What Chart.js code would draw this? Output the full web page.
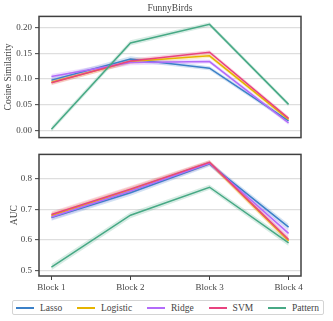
<!DOCTYPE html>
<html>
<head>
<meta charset="utf-8">
<script src="https://cdn.jsdelivr.net/npm/chart.js@4/dist/chart.umd.min.js"></script>
<style>
  html, body { margin:0; padding:0; background:#fff; }
  body { width:333px; height:321px; position:relative; overflow:hidden; font-family:"Liberation Serif", serif; }
  #c1 { position:absolute; left:0; top:0; }
  #c2 { position:absolute; left:0; top:146px; }
  #legend { position:absolute; left:12px; top:300px; width:312px; height:15px; border:1px solid #d4d4d4; border-radius:2px;
            display:flex; align-items:center; justify-content:space-between; padding:0 4px 0 3px; box-sizing:border-box;
            font-size:9.5px; color:#444; }
  .item { display:flex; align-items:center; }
  .swatch { width:18px; height:2px; margin-right:6px; }
</style>
</head>
<body>
<canvas id="c1" width="333" height="146"></canvas>
<canvas id="c2" width="333" height="150"></canvas>
<div id="legend"></div>
<script>
// ---- data ----
const blocks = ['Block 1', 'Block 2', 'Block 3', 'Block 4'];
const methods = ['Lasso', 'Logistic', 'Ridge', 'SVM', 'Pattern'];

const cosLasso    = [0.098, 0.139, 0.121, 0.019];
const cosLogistic = [0.094, 0.134, 0.145, 0.022];
const cosRidge    = [0.105, 0.132, 0.134, 0.015];
const cosSVM      = [0.093, 0.135, 0.152, 0.024];
const cosPattern  = [0.003, 0.170, 0.206, 0.051];
const cosSpread   = [0.005, 0.005, 0.004, 0.004];

const aucLasso    = [0.673, 0.754, 0.848, 0.642];
const aucLogistic = [0.680, 0.764, 0.852, 0.598];
const aucRidge    = [0.675, 0.760, 0.850, 0.622];
const aucSVM      = [0.683, 0.766, 0.853, 0.602];
const aucPattern  = [0.512, 0.681, 0.772, 0.591];
const aucSpread   = [0.010, 0.010, 0.008, 0.010];

const cosSeries = [cosLasso, cosLogistic, cosRidge, cosSVM, cosPattern];
const aucSeries = [aucLasso, aucLogistic, aucRidge, aucSVM, aucPattern];

// ---- style ----
const colors = ['#3b80c8', '#e6b400', '#b36bfa', '#e8437f', '#47a985'];
const bandColors = ['rgba(59,128,200,0.22)', 'rgba(230,180,0,0.22)', 'rgba(179,107,250,0.22)', 'rgba(232,67,127,0.22)', 'rgba(71,169,133,0.22)'];
const FONT = "'Liberation Serif', serif";
const TXT = '#444';

function pts(arr, off) { return arr.map((v, i) => ({x: i, y: v + (off ? off[i] : 0)})); }
function neg(a) { return a.map(v => -v); }

function buildDatasets(series, spread) {
  const ds = [];
  const n = series.length;
  series.forEach((s, k) => {
    ds.push({ data: pts(s, neg(spread)), borderWidth: 0, borderColor: 'transparent', pointRadius: 0, fill: false, order: 100 + n - k });
    ds.push({ data: pts(s, spread), borderWidth: 0, borderColor: 'transparent', pointRadius: 0, fill: '-1', backgroundColor: bandColors[k], order: 100 + n - k });
    ds.push({ label: methods[k], data: pts(s), borderColor: colors[k], borderWidth: 1.5, pointRadius: 0, fill: false, tension: 0, order: n - k });
  });
  return ds;
}

const boxPlugin = {
  id: 'box',
  afterDraw(chart) {
    const a = chart.chartArea, ctx = chart.ctx;
    ctx.save();
    ctx.strokeStyle = '#404040';
    ctx.lineWidth = 1.5;
    ctx.strokeRect(a.left, a.top, a.right - a.left, a.bottom - a.top);
    ctx.restore();
  }
};

function makeChart(id, series, spread, opts) {
  return new Chart(document.getElementById(id), {
    type: 'line',
    data: { datasets: buildDatasets(series, spread) },
    plugins: [boxPlugin],
    options: {
      responsive: false,
      animation: false,
      layout: { padding: opts.padding },
      plugins: {
        legend: { display: false },
        tooltip: { enabled: false },
        title: opts.title ? { display: true, text: opts.title, fullSize: false, color: TXT,
                 font: { family: FONT, size: 9.5, weight: 'normal' }, padding: { top: 3, bottom: 2 } } : { display: false }
      },
      scales: {
        x: {
          type: 'linear', min: -0.157, max: 3.157,
          display: opts.showX,
          afterBuildTicks: sc => { sc.ticks = blocks.map((_, i) => ({ value: i })); },
          afterFit: sc => { sc.height = opts.showX ? 20 : 0; },
          ticks: { callback: (v) => blocks[v], color: TXT, font: { family: FONT, size: 9 }, padding: 2, maxRotation: 0, autoSkip: false },
          grid: { drawOnChartArea: false, drawTicks: true, tickLength: 4, tickColor: '#404040', tickWidth: 1 },
          border: { display: false }
        },
        y: {
          min: opts.ymin, max: opts.ymax,
          afterBuildTicks: sc => { sc.ticks = opts.yticks.map(v => ({ value: v })); },
          afterFit: sc => { sc.width = 39; },
          ticks: { callback: opts.fmt, color: TXT, font: { family: FONT, size: 9 }, padding: 3 },
          grid: { color: '#dedede', lineWidth: 1.3, drawTicks: true, tickLength: 4, tickColor: '#404040', tickWidth: 1 },
          border: { display: false },
          title: { display: true, text: opts.ylabel, color: TXT, font: { family: FONT, size: 9.5 }, padding: opts.titlePad }
        }
      }
    }
  });
}

const cosTicks = [0.00, 0.05, 0.10, 0.15, 0.20];
const aucTicks = [0.5, 0.6, 0.7, 0.8];

makeChart('c1', cosSeries, cosSpread, {
  title: 'FunnyBirds', showX: false, ymin: -0.0133, ymax: 0.2214, yticks: cosTicks,
  fmt: v => v.toFixed(2), ylabel: 'Cosine Similarity', titlePad: { top: 3, bottom: 0 },
  padding: { left: 0, right: 32, top: 0, bottom: 6 }
});
makeChart('c2', aucSeries, aucSpread, {
  title: null, showX: true, ymin: 0.483, ymax: 0.879, yticks: aucTicks,
  fmt: v => v.toFixed(1), ylabel: 'AUC', titlePad: { top: 9, bottom: 0 },
  padding: { left: 0, right: 32, top: 7, bottom: 0 }
});

// legend (HTML, built from arrays)
const lg = document.getElementById('legend');
methods.forEach((m, k) => {
  const it = document.createElement('div'); it.className = 'item';
  const sw = document.createElement('div'); sw.className = 'swatch'; sw.style.backgroundColor = colors[k];
  const tx = document.createElement('span'); tx.textContent = m;
  it.appendChild(sw); it.appendChild(tx); lg.appendChild(it);
});
</script>
</body>
</html>
